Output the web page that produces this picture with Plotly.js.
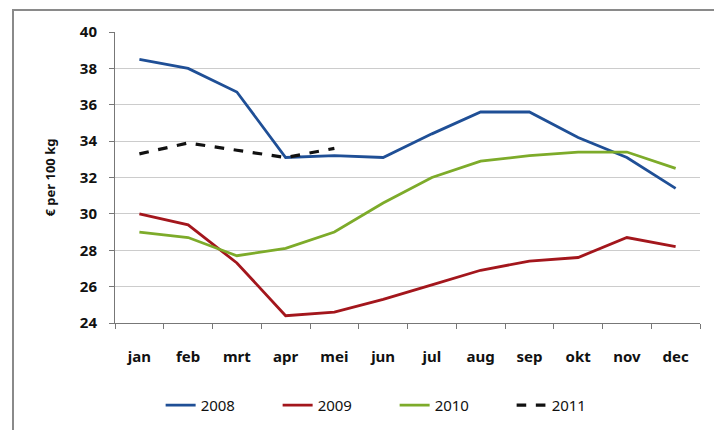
<!DOCTYPE html>
<html>
<head>
<meta charset="utf-8">
<script src="https://cdn.plot.ly/plotly-3.0.1.min.js"></script>
<style>
  html, body { margin: 0; padding: 0; background: #fff; }
  #frame { position: absolute; left: 12px; top: 9px; width: 720px; height: 440px;
           border-left: 2px solid #8a8a8a; border-top: 2px solid #8a8a8a; }
  #chart { position: absolute; left: 0; top: 0; width: 714px; height: 430px; }
</style>
</head>
<body>
<div id="frame"></div>
<div id="chart"></div>
<script>
const months = ["jan","feb","mrt","apr","mei","jun","jul","aug","sep","okt","nov","dec"];
const y2008 = [38.5, 38.0, 36.7, 33.1, 33.2, 33.1, 34.4, 35.6, 35.6, 34.2, 33.1, 31.4];
const y2009 = [30.0, 29.4, 27.3, 24.4, 24.6, 25.3, 26.1, 26.9, 27.4, 27.6, 28.7, 28.2];
const y2010 = [29.0, 28.7, 27.7, 28.1, 29.0, 30.6, 32.0, 32.9, 33.2, 33.4, 33.4, 32.5];
const y2011 = [33.3, 33.9, 33.5, 33.1, 33.6];
const months2011 = months.slice(0, y2011.length);
const yTicks = [24, 26, 28, 30, 32, 34, 36, 38, 40];

const traces = [
  {x: months, y: y2008, name: "2008", mode: "lines", line: {color: "#1f4f96", width: 2.8}},
  {x: months, y: y2009, name: "2009", mode: "lines", line: {color: "#a3161c", width: 2.8}},
  {x: months, y: y2010, name: "2010", mode: "lines", line: {color: "#7dab2a", width: 2.8}},
  {x: months2011, y: y2011, name: "2011", mode: "lines", line: {color: "#111111", width: 3.2, dash: "dash"}}
];

const layout = {
  width: 714, height: 430,
  margin: {l: 115, r: 14, t: 32, b: 107, autoexpand: false},
  paper_bgcolor: "rgba(0,0,0,0)",
  plot_bgcolor: "rgba(0,0,0,0)",
  font: {family: "Noto Sans, sans-serif", color: "#111"},
  showlegend: true,
  legend: {orientation: "h", x: 0.478, xanchor: "center", y: -0.283, yanchor: "middle",
           entrywidth: 72, entrywidthmode: "pixels",
           font: {size: 15, color: "#111"}, traceorder: "normal"},
  xaxis: {
    type: "category", categoryorder: "array", categoryarray: months,
    tickson: "boundaries", ticks: "outside", ticklen: 5, tickcolor: "#777",
    showline: true, linecolor: "#777", linewidth: 1,
    showgrid: false, ticklabelstandoff: 20, automargin: false,
    tickfont: {size: 15, family: "Noto Sans, sans-serif", weight: "bold", color: "#111"},
    range: [-0.5, 11.5], fixedrange: true
  },
  yaxis: {
    range: [24, 40], tickvals: yTicks, ticktext: yTicks.map(String),
    ticks: "outside", ticklen: 5, tickcolor: "#777",
    showline: true, linecolor: "#777", linewidth: 1,
    showgrid: true, gridcolor: "#cccccc", gridwidth: 1,
    zeroline: false, ticklabelstandoff: 9, automargin: false,
    tickfont: {size: 15, family: "Noto Sans, sans-serif", weight: "bold", color: "#111"},
    title: {text: "€ per 100 kg", standoff: 21,
            font: {size: 13, family: "Noto Sans, sans-serif", weight: "bold", color: "#111"}}
  }
};

Plotly.newPlot("chart", traces, layout, {displayModeBar: false, staticPlot: true});
</script>
</body>
</html>
